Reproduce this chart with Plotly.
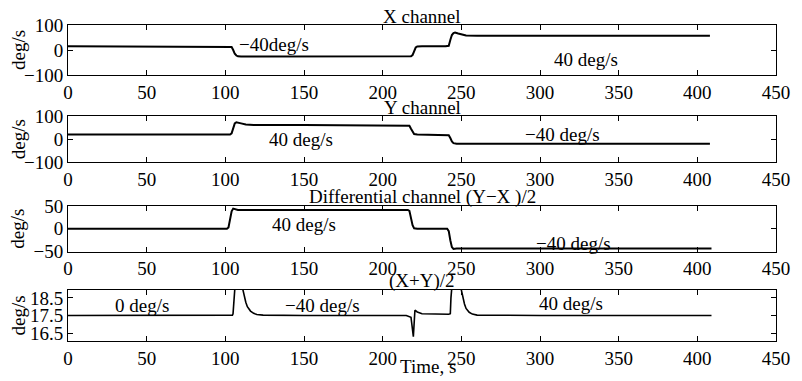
import plotly.graph_objects as go

# ---------------- data ----------------
x_t = [0, 103, 104, 105, 106, 107, 108, 110, 150, 200, 218, 219, 220, 221, 222, 225,
       240, 242, 243, 244, 245, 246, 248, 250, 253, 260, 300, 408]
x_v = [15, 15, 12, 0, -15, -22, -25, -26, -26, -25, -25, -20, -5, 10, 14, 15,
       15, 17, 40, 60, 68, 70, 66, 62, 58, 57, 57, 57]

y_t = [0, 103, 104, 105, 106, 107, 108, 110, 113, 118, 150, 215, 217, 218, 219, 220, 222,
       241, 242, 243, 244, 245, 247, 408]
y_v = [20, 20, 25, 50, 68, 73, 72, 68, 63, 61, 61, 61, 58, 45, 30, 22, 20,
       20, 17, 5, -10, -17, -20, -20]

d_t = [0, 101, 102, 103, 104, 105, 106, 108, 150, 216, 217, 218, 219, 220, 222,
       241, 242, 243, 244, 245, 247, 409]
d_v = [0, 0, 3, 20, 38, 44, 43, 41, 41, 41, 39, 25, 8, 1, 0,
       0, -5, -25, -40, -44, -43, -43]

s_t = [0, 50, 104.5, 104.9, 105.2, 110.8, 111.2, 112, 113, 114, 116, 118, 120, 124, 150,
       215, 217, 218, 219.5, 220.5, 222, 225, 242, 243, 243.4, 243.7, 249.5, 250, 251, 252,
       253, 255, 257, 260, 300, 409]
s_v = [17.5, 17.5, 17.52, 17.6, 25, 25, 18.95, 18.6, 18.25, 18.0, 17.75, 17.62, 17.56, 17.52, 17.5,
       17.5, 17.45, 17.4, 16.3, 17.8, 17.7, 17.6, 17.57, 17.6, 18.5, 25, 25, 18.95, 18.5, 18.15,
       17.9, 17.68, 17.58, 17.52, 17.5, 17.5]

titles = ["X channel", "Y channel", "Differential channel (Y\u2212X )/2", "(X+Y)/2"]
x_ticks = [0, 50, 100, 150, 200, 250, 300, 350, 400, 450]
y_ticks = [[-100, 0, 100], [-100, 0, 100], [-50, 0, 50], [16.5, 17.5, 18.5]]
y_ranges = [[-100, 100], [-100, 100], [-50, 50], [16.05, 18.95]]

labels = [
    [(131, 22, "\u221240deg/s"), (329, -37, "40 deg/s")],
    [(148, -2, "40 deg/s"), (314, 19, "\u221240 deg/s")],
    [(150, 9, "40 deg/s"), (321, -32, "\u221240 deg/s")],
    [(47, 18.05, "0 deg/s"), (162, 18.05, "\u221240 deg/s"), (320, 18.2, "40 deg/s")],
]

# ---------------- figure ----------------
FONT = "'Liberation Serif', 'Times New Roman', Times, serif"
FS = 19
W, H = 802, 381
ML, MR, MT, MB = 68, 26, 25, 34
plot_h = H - MT - MB
plot_w = W - ML - MR

def py(px):
    return (H - MB - px) / plot_h

domains = [[py(76), 1.0], [py(165), py(117.7)], [py(256), py(209.3)], [0.0, py(295)]]
widths = [2, 2, 2, 1.6]

fig = go.Figure()
series = [(x_t, x_v), (y_t, y_v), (d_t, d_v), (s_t, s_v)]
for i, (t, v) in enumerate(series):
    k = "" if i == 0 else str(i + 1)
    fig.add_trace(go.Scatter(x=t, y=v, mode="lines", xaxis="x" + k, yaxis="y" + k,
                             line=dict(color="black", width=widths[i]), showlegend=False,
                             hoverinfo="skip"))

tf = dict(family=FONT, size=FS, color="black")
layout = dict(width=W, height=H, margin=dict(l=ML, r=MR, t=MT, b=MB),
              paper_bgcolor="white", plot_bgcolor="white",
              font=tf, showlegend=False)
annotations = []
for i in range(4):
    k = "" if i == 0 else str(i + 1)
    layout["xaxis" + k] = dict(domain=[0, 1], range=[0, 450], tickvals=x_ticks,
                               ticks="inside", ticklen=5, tickcolor="black",
                               showline=True, linecolor="black", linewidth=1, mirror="ticks",
                               showgrid=False, zeroline=False, anchor="y" + k,
                               tickfont=tf, ticklabelstandoff=0)
    layout["yaxis" + k] = dict(domain=domains[i], range=y_ranges[i], tickvals=y_ticks[i],
                               ticks="inside", ticklen=5, tickcolor="black",
                               showline=True, linecolor="black", linewidth=1, mirror="ticks",
                               showgrid=False, zeroline=False, anchor="x" + k,
                               tickfont=tf)
    annotations.append(dict(text=titles[i], x=0.5, y=domains[i][1], xref="paper", yref="paper",
                            xanchor="center", yanchor="bottom", showarrow=False, yshift=-4,
                            font=tf))
    annotations.append(dict(text="deg/s", x=(18 - ML) / plot_w, y=sum(domains[i]) / 2,
                            xref="paper", yref="paper", textangle=-90, showarrow=False,
                            xanchor="center", yanchor="middle", font=tf))
    for (lx, ly, txt) in labels[i]:
        annotations.append(dict(text=txt, x=lx, y=ly, xref="x" + k, yref="y" + k,
                                showarrow=False, xanchor="center", yanchor="middle",
                                font=tf))
annotations.append(dict(text="Time, s", x=(428 - ML) / plot_w, y=py(373), xref="paper",
                        yref="paper", xanchor="center", yanchor="middle", showarrow=False,
                        font=tf))
layout["annotations"] = annotations
fig.update_layout(**layout)
fig.write_html("out.html")
